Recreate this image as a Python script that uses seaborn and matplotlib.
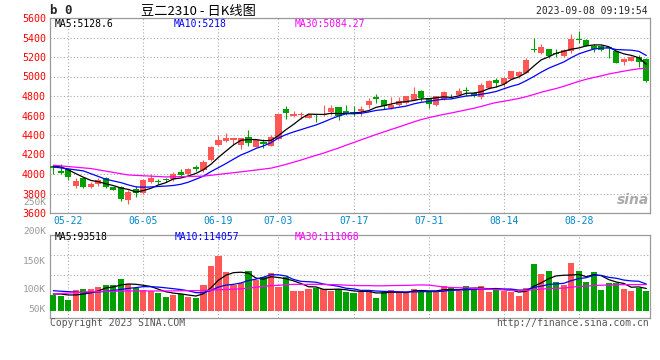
import numpy as np
import pandas as pd
import matplotlib
matplotlib.use('Agg')
import matplotlib.pyplot as plt
import seaborn as sns

# 豆二2310 日K, 80 trading days (2023-05-18 .. 2023-09-08)
opens = [4080, 4035, 4050, 3880, 3958, 3868, 3897, 3955, 3866, 3870,
         3735, 3850, 3810, 3915, 3932, 3948, 3946, 4018, 3998, 4068,
         4045, 4140, 4298, 4340, 4352, 4295, 4378, 4280, 4325, 4290,
         4356, 4670, 4595, 4608, 4578, 4610, 4605, 4638, 4685, 4645,
         4640, 4644, 4705, 4787, 4762, 4680, 4705, 4730, 4763, 4850,
         4778, 4710, 4769, 4803, 4810, 4853, 4827, 4790, 4885, 4968,
         4922, 4975, 5002, 5039, 5280, 5240, 5282, 5240, 5214, 5260,
         5375, 5373, 5311, 5316, 5305, 5260, 5151, 5162, 5195, 5178]
closes = [4058, 4008, 3972, 3932, 3865, 3895, 3940, 3866, 3840, 3742,
          3820, 3810, 3938, 3955, 3915, 3938, 4000, 3990, 4055, 4048,
          4128, 4280, 4345, 4372, 4366, 4366, 4318, 4345, 4312, 4380,
          4615, 4622, 4615, 4612, 4608, 4603, 4615, 4675, 4600, 4615,
          4617, 4664, 4752, 4770, 4697, 4705, 4745, 4797, 4824, 4778,
          4715, 4795, 4844, 4795, 4856, 4850, 4805, 4912, 4955, 4938,
          4985, 5052, 5049, 5172, 5275, 5305, 5210, 5232, 5270, 5382,
          5370, 5315, 5281, 5272, 5290, 5141, 5178, 5202, 5151, 4955]
highs = [4090, 4105, 4060, 3955, 3962, 3915, 3955, 3965, 3870, 3878,
         3840, 3875, 3950, 3995, 3950, 3960, 4020, 4055, 4065, 4095,
         4140, 4290, 4395, 4425, 4368, 4370, 4448, 4355, 4355, 4405,
         4618, 4695, 4650, 4635, 4618, 4612, 4705, 4712, 4688, 4712,
         4702, 4695, 4780, 4825, 4772, 4786, 4790, 4800, 4888, 4865,
         4782, 4800, 4850, 4825, 4878, 4895, 4840, 4929, 4965, 4987,
         4995, 5059, 5059, 5190, 5397, 5336, 5282, 5282, 5282, 5431,
         5465, 5383, 5331, 5325, 5305, 5260, 5185, 5212, 5222, 5185]
lows = [4005, 4000, 3940, 3860, 3858, 3852, 3880, 3858, 3832, 3728,
        3695, 3762, 3800, 3910, 3900, 3915, 3930, 3978, 3985, 4030,
        4025, 4135, 4290, 4330, 4305, 4255, 4290, 4272, 4270, 4285,
        4345, 4560, 4583, 4560, 4570, 4535, 4595, 4610, 4550, 4610,
        4600, 4595, 4678, 4730, 4668, 4668, 4695, 4720, 4760, 4745,
        4674, 4700, 4760, 4780, 4800, 4803, 4790, 4769, 4875, 4895,
        4895, 4970, 4985, 5035, 5253, 5235, 5185, 5197, 5205, 5240,
        5339, 5315, 5253, 5265, 5192, 5134, 5117, 5158, 5096, 4946]
# volume in thousands
volumes = [66.7, 62.5, 45.5, 88, 92.2, 92.2, 102, 109.2, 109.2, 134.7,
           113.5, 95.2, 88, 83.7, 76.5, 59.5, 66.7, 71, 59.5, 55.2,
           109.2, 191.2, 233.7, 165.7, 109.2, 119, 170, 130.5, 142, 161.5,
           102, 144.5, 85, 85, 93.5, 97.7, 92.2, 85, 91, 79.5,
           74, 80.7, 88, 55.2, 80.7, 88, 80.7, 80.7, 92.2, 88,
           79.5, 80.7, 105, 96.5, 83.7, 105, 91, 105, 80.7, 91,
           83.7, 79.5, 62.5, 95.2, 198.5, 156, 168.7, 122, 109.2, 202.7,
           168.7, 122, 164.5, 88, 117.7, 117.7, 92.2, 83.7, 95.2, 83.7]

date_pos = [2, 12, 22, 30, 40, 50, 60, 70]
date_labels = ['05-22', '06-05', '06-19', '07-03', '07-17', '07-31', '08-14', '08-28']

# start of the MA lines (needs days before the window)
ma5_head_x, ma5_head = [0, 1, 2, 3], [4083, 4073, 4042, 4004]
ma10_head_x, ma10_head = [0, 4, 7], [4073, 4032, 3946]
ma30_head_x, ma30_head = [0, 5, 10, 15, 20, 25], [4090, 4056, 3990, 3970, 3978, 4022]
vma5_head_x, vma5_head = [0, 1, 2, 3], [71, 71, 67, 67]
vma10_head_x, vma10_head = [0, 4, 7], [85, 77, 82]
vma30_head_x, vma30_head = [0, 5, 10, 15, 20, 25], [71, 81, 84, 84, 86, 93]

RED = '#ff5656'
GREEN = '#00a000'
GRID = '#aaaaaa'
MONO = 'DejaVu Sans Mono'


def ma_line(vals, n, hx, hy):
    m = pd.Series(vals).rolling(n).mean()
    x = list(hx) + list(range(n - 1, len(vals)))
    y = list(hy) + m.iloc[n - 1:].tolist()
    return x, y


sns.set_style('white')
plt.rcParams['font.family'] = ['Noto Sans CJK SC', 'DejaVu Sans']

W, H = 660, 360
fig = plt.figure(figsize=(W / 100, H / 100), dpi=100)
ax = fig.add_axes([50 / W, 1 - 213 / H, 600 / W, 195 / H])
axv = fig.add_axes([50 / W, 1 - 318 / H, 600 / W, 83 / H])

idx = np.arange(len(closes))
o = np.array(opens)
c = np.array(closes)
cols = [RED if cc >= oo else GREEN for oo, cc in zip(o, c)]
bottoms = np.minimum(o, c)
heights = np.maximum(np.abs(c - o), 10)

# candles
ax.vlines(idx, lows, highs, colors=cols, lw=0.8, zorder=2)
ax.bar(idx, heights, bottom=bottoms, width=0.82, color=cols, lw=0, zorder=3)

for (n, hx, hy, col) in [(5, ma5_head_x, ma5_head, 'black'),
                         (10, ma10_head_x, ma10_head, '#0000ff'),
                         (30, ma30_head_x, ma30_head, '#ff00ff')]:
    x, y = ma_line(closes, n, hx, hy)
    sns.lineplot(x=x, y=y, ax=ax, color=col, lw=0.9, zorder=4)

# volume
axv.bar(idx, volumes, width=0.82, color=cols, lw=0, zorder=3)
for (n, hx, hy, col) in [(5, vma5_head_x, vma5_head, 'black'),
                         (10, vma10_head_x, vma10_head, '#0000ff'),
                         (30, vma30_head_x, vma30_head, '#ff00ff')]:
    x, y = ma_line(volumes, n, hx, hy)
    sns.lineplot(x=x, y=y, ax=axv, color=col, lw=0.9, zorder=4)

for a in (ax, axv):
    a.set_xlim(-0.44, 79.49)
    a.set_xlabel('')
    a.set_ylabel('')
    a.set_axisbelow(True)
    a.grid(True, color=GRID, ls=(0, (1, 2)), lw=0.8)
    for s in a.spines.values():
        s.set_color('#999999')
        s.set_linewidth(0.9)
    a.tick_params(length=0)

ax.set_ylim(3600, 5600)
ax.set_yticks(range(3600, 5601, 200))
ax.set_yticklabels([str(v) for v in range(3600, 5601, 200)], color='red',
                   fontsize=7.2, family=MONO)
ax.set_xticks(date_pos)
ax.set_xticklabels(date_labels, color='#0088cc', fontsize=7, family=MONO)
ax.tick_params(axis='x', pad=2)
ax.tick_params(axis='y', pad=3)

axv.set_ylim(-31, 322)
axv.set_yticks([150, 235])
axv.set_xticks(date_pos)
axv.tick_params(labelleft=False, labelbottom=False)


def ftext(x, y, s, **kw):
    fig.text(x / W, 1 - y / H, s, va='center', **kw)


ftext(50, 11, 'b 0', fontsize=9, fontweight='bold', family=MONO)
ftext(141, 11, '豆二2310 - 日K线图', fontsize=9.5, color='black')
ftext(648, 11, '2023-09-08 09:19:54', fontsize=7, family=MONO, ha='right')

ftext(55, 24, 'MA5:5128.6', fontsize=7, family=MONO, color='black')
ftext(174, 24, 'MA10:5218', fontsize=7, family=MONO, color='#0000ff')
ftext(295, 24, 'MA30:5084.27', fontsize=7, family=MONO, color='#ff00ff')

ftext(55, 237, 'MA5:93518', fontsize=7, family=MONO, color='black')
ftext(175, 237, 'MA10:114057', fontsize=7, family=MONO, color='#0000ff')
ftext(295, 237, 'MA30:111068', fontsize=7, family=MONO, color='#ff00ff')

for lab, yy in [('250K', 202.5), ('200K', 231), ('150K', 261), ('100K', 290), ('50K', 310)]:
    ftext(46, yy, lab, fontsize=6.8, family=MONO, color='#999999', ha='right')

ftext(50, 323, 'Copyright 2023 SINA.COM', fontsize=7, family=MONO, color='#555555')
ftext(649, 323, 'http://finance.sina.com.cn', fontsize=7, family=MONO, color='#555555', ha='right')

ftext(633, 200, 'sina', fontsize=10, fontweight='bold', style='italic',
      color='#aaaaaa', ha='center', family='DejaVu Sans')

fig.savefig('out.png', dpi=100, facecolor='white')
